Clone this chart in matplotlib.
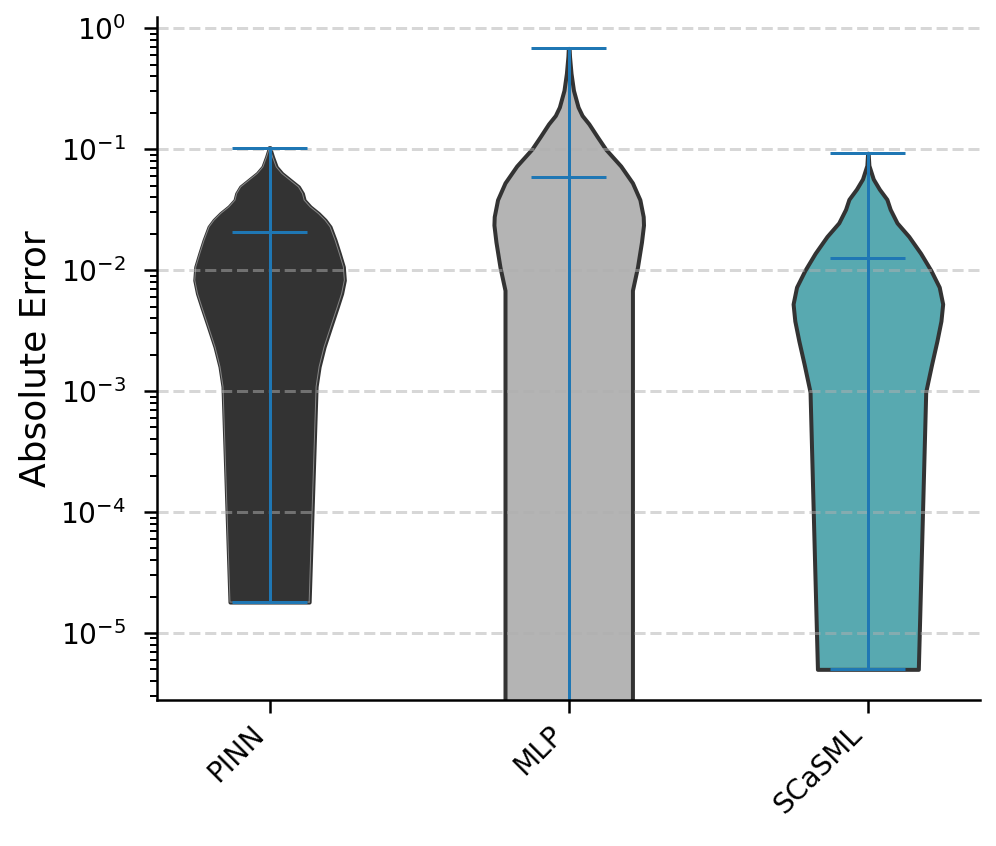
import matplotlib
matplotlib.use('Agg')
import matplotlib.pyplot as plt
import numpy as np

methods = ['PINN', 'MLP', 'SCaSML']

# violin outlines: error level and relative density
pinn_coords = [1.8e-5, 0.00109, 0.00159, 0.00232, 0.00340, 0.00498, 0.00642,
               0.00826, 0.01065, 0.0137, 0.0177, 0.0228, 0.0259, 0.0294,
               0.0334, 0.0379, 0.0430, 0.0488, 0.0554, 0.0630, 0.0714,
               0.0864, 0.0981, 0.103]
pinn_density = [39.7, 46.7, 49.7, 54.7, 61.3, 68.0, 72.3, 75.0, 74.0, 70.0,
                65.7, 60.7, 55.7, 49.0, 40.7, 34.7, 33.0, 29.0, 20.7, 12.3,
                6.7, 3.0, 0.9, 0.5]

mlp_coords = [1e-6, 0.00681, 0.0106, 0.0171, 0.0236, 0.0277, 0.0382, 0.0527,
              0.0726, 0.100, 0.127, 0.162, 0.190, 0.223, 0.307, 0.424, 0.585,
              0.681]
mlp_density = [63.3, 63.3, 68.3, 72.3, 74.3, 74.0, 70.7, 63.3, 51.7, 36.7,
               28.3, 20.0, 13.3, 9.3, 4.7, 2.3, 0.8, 0.4]

scasml_coords = [5.0e-6, 0.000985, 0.00165, 0.00259, 0.00380, 0.00525,
                 0.00724, 0.00998, 0.01377, 0.0190, 0.0246, 0.0318, 0.0385,
                 0.0467, 0.0567, 0.0735, 0.0890, 0.0926]
scasml_density = [49.7, 57.0, 62.7, 68.0, 72.0, 73.7, 70.3, 62.0, 52.0, 40.3,
                  28.7, 22.0, 18.7, 11.3, 5.3, 1.0, 0.4, 0.3]

means = [0.0205, 0.0589, 0.01266]
mins = [1.8e-5, 1e-6, 5.0e-6]
maxes = [0.103, 0.681, 0.0926]

fill_colors = ['#333333', '#b4b4b4', '#58a9b0']
edge_color = '#333333'


def draw_violins(file_name):
    coords = [pinn_coords, mlp_coords, scasml_coords]
    density = [pinn_density, mlp_density, scasml_density]
    vpstats = []
    for i in range(len(methods)):
        vpstats.append({'coords': np.array(coords[i]),
                        'vals': np.array(density[i]),
                        'mean': means[i],
                        'median': None,
                        'min': mins[i],
                        'max': maxes[i]})

    fig = plt.figure(figsize=(996 / 144, 846 / 144), dpi=144)
    ax = fig.add_axes([0.158, 0.1726, 0.826, 0.807])
    ax.set_yscale('log')

    parts = ax.violin(vpstats, positions=[1, 2, 3], widths=0.5,
                      showmeans=True, showextrema=True, showmedians=False)
    for body, color in zip(parts['bodies'], fill_colors):
        body.set_facecolor(color)
        body.set_edgecolor(edge_color)
        body.set_linewidth(2)
        body.set_alpha(1)

    # faint light seam along the dark PINN outline
    verts = parts['bodies'][0].get_paths()[0].vertices
    ax.plot(verts[:, 0], verts[:, 1], color='#9a9a9a', lw=0.5, alpha=0.8,
            zorder=1.2)

    ax.set_xlim(0.625, 3.375)
    ax.set_ylim(2.79e-6, 1.233)
    ax.set_xticks([1, 2, 3])
    ax.set_xticklabels(methods, rotation=45, ha='right')
    ax.set_ylabel('Absolute Error', fontsize=18)

    ax.yaxis.grid(True, which='major', linestyle='--', linewidth=1.5,
                  color='#b0b0b0', alpha=0.5)
    ax.set_axisbelow('line')

    ax.spines['top'].set_visible(False)
    ax.spines['right'].set_visible(False)
    ax.spines['left'].set_linewidth(1.25)
    ax.spines['bottom'].set_linewidth(1.25)
    ax.tick_params(axis='both', which='major', labelsize=14, length=6.7,
                   width=1.25)
    ax.tick_params(axis='y', which='major', pad=9)
    ax.tick_params(axis='y', which='minor', length=3.3, width=1.0)

    fig.savefig(file_name, dpi=144)


draw_violins('out.png')
